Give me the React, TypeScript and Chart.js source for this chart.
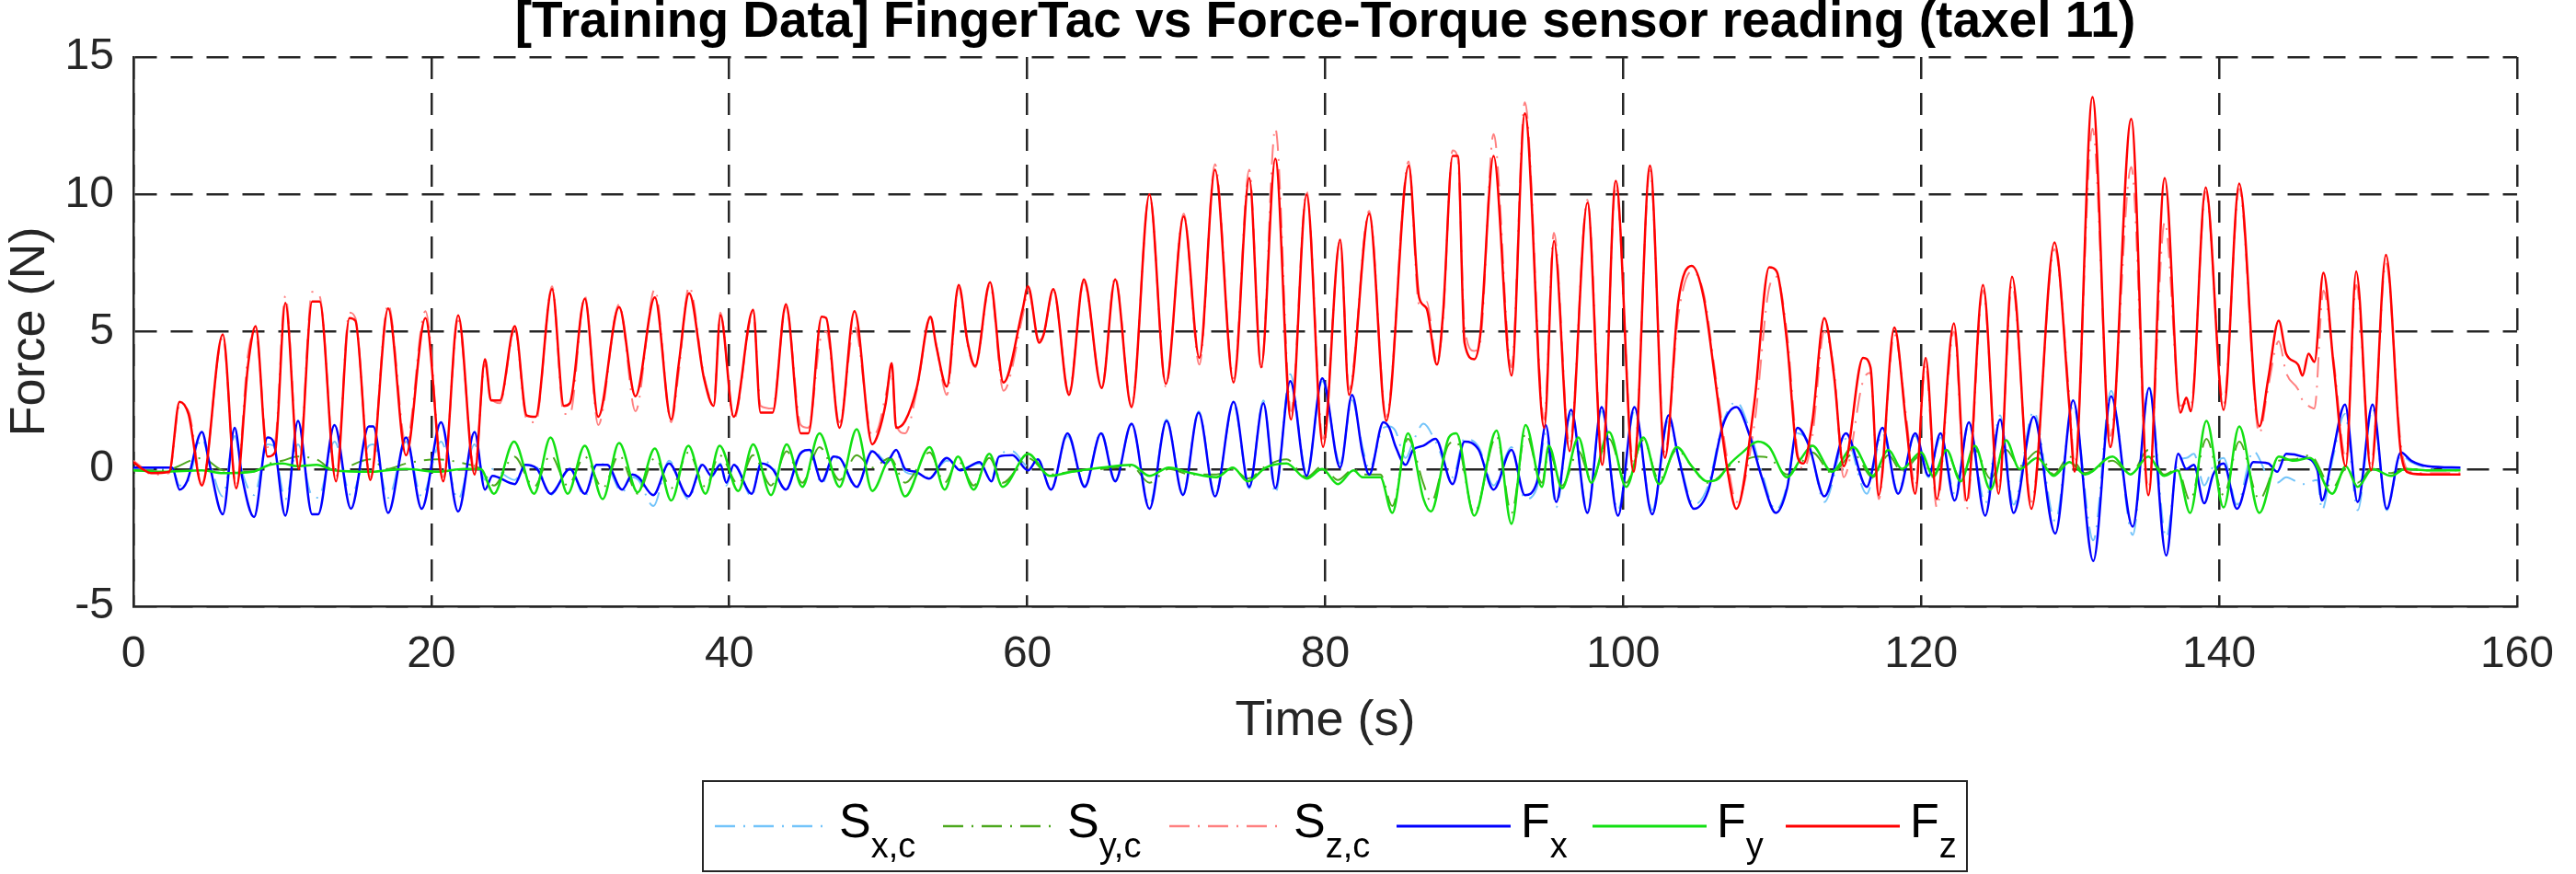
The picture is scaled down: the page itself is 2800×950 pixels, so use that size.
import React, { useEffect, useRef } from "react";
import { Chart, registerables } from "chart.js";

Chart.register(...registerables);

// normal force: shared time base for F_z and S_z (s)
const fzTime = [
  0, 0.6, 1.2, 2.4, 3.1, 3.7, 4.6, 6.0, 6.9, 7.7,
  8.2, 9.0, 9.5, 10.2, 11.1, 12.0, 12.5, 13.6, 14.5, 14.9,
  15.9, 17.1, 18.3, 19.6, 20.8, 21.8, 22.9, 23.6, 24.0, 24.6,
  25.6, 26.4, 27.0, 28.1, 28.9, 29.3, 30.3, 31.2, 32.6, 33.7,
  35.0, 36.1, 36.6, 37.3, 38.3, 38.95, 39.4, 40.3, 41.6, 42.1,
  42.9, 43.8, 44.8, 45.3, 46.2, 46.5, 47.4, 48.4, 49.6, 50.0,
  50.5, 50.9, 51.2, 51.8, 52.6, 53.5, 53.9, 54.6, 55.4, 56.0,
  56.5, 57.5, 58.4, 59.7, 60.05, 60.8, 61.1, 61.75, 62.8, 63.8,
  65.0, 65.9, 67.0, 68.2, 69.3, 70.5, 71.55, 72.6, 73.85, 74.9,
  75.7, 76.65, 77.7, 78.75, 79.85, 81.0, 81.6, 82.95, 84.1, 85.6,
  86.3, 86.8, 87.5, 87.9, 88.55, 88.9, 89.35, 90.0, 90.4, 91.3,
  92.5, 93.4, 94.7, 95.35, 96.4, 97.6, 98.6, 99.5, 100.7, 101.8,
  102.8, 103.7, 104.6, 105.4, 106.2, 107.0, 107.6, 108.8, 109.8, 110.3,
  111.0, 111.7, 112.1, 112.7, 113.5, 114.15, 114.8, 116.1, 116.6, 117.15,
  118.2, 119.0, 119.6, 120.3, 121.05, 122.2, 123.05, 124.15, 125.2, 126.1,
  127.4, 128.95, 129.95, 130.3, 131.5, 132.7, 134.1, 135.25, 136.35, 137.4,
  137.8, 138.1, 139.1, 140.3, 141.35, 142.7, 143.3, 144.0, 144.5, 145.3,
  145.6, 146.0, 146.4, 147.0, 147.7, 148.5, 149.2, 150.2, 151.2, 152.2,
  152.8, 154.0, 156.2,
];
const fzValues = [
  0.25, 0.0, -0.15, -0.1, 2.45, 2.0, -0.6, 4.9, -0.7, 3.8,
  5.2, 0.45, 0.6, 6.05, 0.0, 6.1, 6.1, -0.45, 5.5, 5.4,
  -0.4, 5.85, 0.5, 5.5, -0.45, 5.6, -0.2, 4.0, 2.5, 2.5,
  5.2, 1.95, 1.9, 6.55, 2.3, 2.4, 6.2, 1.9, 5.9, 2.65,
  6.25, 1.8, 3.8, 6.4, 3.3, 2.3, 5.6, 1.9, 5.8, 2.05,
  2.05, 6.0, 1.3, 1.3, 5.55, 5.5, 1.5, 5.75, 0.9, 1.3,
  2.4, 3.85, 1.5, 1.75, 3.0, 5.55, 4.45, 3.0, 6.7, 4.6,
  3.75, 6.8, 3.15, 5.85, 6.65, 4.6, 4.9, 6.55, 2.7, 6.9,
  2.95, 6.9, 2.25, 10.0, 3.1, 9.2, 4.05, 10.9, 3.15, 10.6,
  3.7, 11.3, 1.8, 10.0, 0.8, 8.35, 2.7, 9.3, 1.75, 11.05,
  6.25, 5.85, 3.8, 5.6, 11.4, 11.4, 4.6, 4.0, 4.85, 11.4,
  3.4, 12.95, 1.5, 8.3, 0.65, 9.7, 0.15, 10.5, -0.1, 11.05,
  0.4, 6.1, 7.4, 6.25, 3.15, -0.05, -1.45, 2.4, 7.35, 7.2,
  4.6, 0.45, 0.2, 1.75, 5.5, 3.4, 0.1, 4.05, 3.7, -0.95,
  5.15, 1.6, -0.9, 4.05, -1.1, 5.3, -1.15, 6.7, -0.9, 7.0,
  -1.45, 8.25, 2.25, -0.1, 13.55, 0.8, 12.75, -0.95, 10.6, 2.05,
  2.6, 2.1, 10.25, 2.15, 10.4, 1.55, 3.3, 5.4, 4.2, 3.8,
  3.4, 4.2, 3.9, 7.15, 3.7, 0.1, 7.2, -0.05, 7.8, 0.6,
  -0.15, -0.2, -0.2,
];
const szValues = [
  0.3, 0.05, -0.2, -0.15, 2.3, 2.1, -0.5, 4.8, -0.6, 4.2,
  5.0, 0.8, 1.0, 6.3, 0.1, 6.45, 6.3, -0.3, 5.7, 5.5,
  -0.3, 6.0, 0.9, 5.75, -0.3, 5.4, 0.0, 3.8, 2.6, 2.4,
  5.1, 1.8, 1.7, 6.65, 2.0, 2.0, 6.3, 1.6, 6.0, 2.1,
  6.55, 1.7, 3.5, 6.65, 3.4, 2.4, 5.7, 1.8, 5.7, 2.3,
  2.2, 5.9, 1.6, 1.5, 4.9, 5.0, 1.7, 5.2, 1.2, 1.5,
  2.7, 3.5, 1.6, 1.3, 2.9, 5.5, 4.5, 2.7, 6.6, 4.5,
  3.7, 6.7, 2.85, 5.6, 6.5, 4.7, 4.9, 6.5, 2.8, 6.8,
  3.0, 7.0, 2.3, 10.0, 3.0, 9.3, 3.8, 11.1, 3.3, 10.9,
  3.6, 12.4, 2.1, 10.1, 1.1, 8.3, 2.9, 9.4, 1.9, 11.2,
  6.0, 6.1, 3.9, 5.4, 11.6, 11.3, 5.2, 4.3, 4.6, 12.2,
  3.7, 13.35, 1.8, 8.6, 0.9, 9.8, 0.5, 10.3, 0.2, 10.9,
  0.6, 5.6, 7.2, 6.4, 3.4, 0.3, -1.2, 1.6, 6.6, 7.0,
  4.9, 0.6, 0.0, 1.2, 5.0, 3.6, -0.3, 3.2, 3.5, -1.1,
  4.9, 1.9, -0.6, 3.8, -1.4, 5.0, -1.45, 6.5, -0.7, 6.7,
  -1.2, 8.0, 2.6, 0.2, 12.4, 1.2, 11.0, -0.7, 9.0, 2.3,
  2.4, 2.3, 10.1, 2.4, 10.2, 1.3, 3.0, 4.65, 3.5, 2.9,
  2.5, 2.3, 2.2, 6.5, 3.9, 0.4, 6.7, 0.2, 7.5, 0.9,
  -0.1, -0.15, -0.15,
];

// shear x: shared time base for F_x and S_x,c (s)
const fxTime = [
  0, 2.6, 3.1, 3.6, 4.6, 5.1, 6.0, 6.8, 7.3, 8.1,
  9.0, 9.4, 10.2, 11.05, 12.0, 12.4, 13.5, 14.6, 15.8, 16.1,
  17.1, 18.3, 19.35, 20.65, 21.8, 22.9, 23.6, 24.1, 25.6, 26.3,
  27.1, 28.0, 29.3, 30.3, 31.1, 31.8, 32.8, 33.5, 33.9, 34.9,
  35.95, 37.25, 38.2, 38.8, 39.4, 39.8, 40.3, 41.5, 42.15, 42.9,
  43.8, 44.75, 45.4, 46.2, 47.0, 47.4, 48.55, 49.6, 50.5, 51.2,
  51.8, 52.5, 53.4, 54.6, 55.5, 56.8, 57.6, 58.1, 59.0, 60.05,
  60.7, 61.6, 62.7, 63.85, 64.95, 65.9, 67.0, 68.2, 69.35, 70.45,
  71.5, 72.6, 73.85, 74.9, 75.85, 76.65, 77.65, 78.75, 79.8, 81.0,
  81.8, 82.5, 82.95, 83.9, 84.3, 84.7, 85.4, 85.9, 86.6, 87.4,
  88.55, 89.35, 90.3, 91.3, 92.5, 93.4, 94.2, 94.8, 95.5, 96.5,
  97.6, 98.55, 99.65, 100.75, 101.95, 103.05, 103.7, 104.75, 105.7, 106.7,
  107.6, 108.5, 109.3, 110.25, 111.0, 111.7, 112.5, 113.5, 114.95, 116.35,
  117.4, 118.45, 119.6, 120.5, 121.3, 122.25, 123.2, 124.3, 125.3, 126.2,
  127.55, 129.0, 130.2, 131.55, 132.75, 134.2, 135.3, 136.45, 137.25, 137.8,
  138.3, 139.0, 139.6, 140.3, 141.2, 142.3, 143.3, 143.9, 144.5, 145.6,
  146.6, 146.9, 147.6, 148.45, 149.3, 150.3, 151.25, 152.2, 152.9, 154.0,
  156.2,
];
const fxValues = [
  0.05, 0.05, -0.75, -0.45, 1.35, 0.2, -1.65, 1.5, -0.3, -1.75,
  1.15, 1.0, -1.7, 1.75, -1.65, -1.65, 1.6, -1.45, 1.55, 1.55,
  -1.6, 1.15, -1.45, 1.7, -1.55, 1.35, -0.75, -0.25, -0.55, 0.15,
  0.0, -0.9, 0.0, -0.9, 0.15, 0.15, -0.75, -0.2, -0.3, -0.95,
  0.2, -1.0, 0.15, -0.25, 0.15, -0.5, 0.15, -0.9, 0.2, 0.0,
  -0.75, 0.55, 0.7, -0.45, 0.45, 0.4, -0.65, 0.65, 0.2, 0.7,
  0.0, -0.1, -0.35, 0.4, -0.05, 0.25, -0.45, 0.45, 0.5, -0.05,
  0.35, -0.75, 1.3, -0.65, 1.3, -0.45, 1.65, -1.45, 1.75, -0.95,
  2.05, -1.0, 2.45, -0.65, 2.4, -0.7, 3.2, -0.25, 3.3, 0.05,
  2.7, 0.6, -0.2, 1.7, 1.5, 0.85, 0.15, 0.7, 0.85, 1.1,
  -0.55, 1.0, 0.7, -0.75, 0.7, -0.95, -0.5, 1.6, -1.2, 2.15,
  -1.6, 2.25, -1.7, 2.25, -1.65, 1.95, 0.45, -1.45, -0.8, 1.6,
  2.25, 1.2, -0.3, -1.6, -0.7, 1.5, 0.8, -1.0, 1.3, -0.65,
  1.5, -0.9, 1.3, -0.25, 1.3, -1.15, 1.7, -1.7, 1.8, -1.6,
  1.9, -2.35, 2.5, -3.35, 2.65, -2.1, 2.95, -3.15, 0.55, 0.0,
  0.15, -1.25, -0.2, 0.2, -1.45, 0.25, 0.2, -0.1, 0.55, 0.45,
  -0.05, -1.15, 0.5, 2.35, -1.2, 2.35, -1.45, 0.6, 0.3, 0.1,
  0.05,
];
const sxValues = [
  0.0, 0.0, -0.6, -0.5, 1.1, 0.3, -1.0, 1.2, -0.1, -0.95,
  0.9, 0.85, -1.1, 0.9, -1.0, -1.05, 1.0, -0.95, 0.85, 0.9,
  -1.05, 1.0, -1.0, 1.0, -1.1, 0.9, -0.4, 0.0, -0.4, 0.1,
  0.05, -0.95, 0.0, -1.0, 0.2, 0.1, -0.85, -0.3, -0.4, -1.35,
  0.3, -1.1, 0.2, -0.3, 0.2, -0.6, 0.2, -1.0, 0.3, 0.1,
  -0.8, 0.6, 0.65, -0.55, 0.4, 0.35, -0.7, 0.7, 0.3, 0.6,
  -0.1, -0.2, -0.3, 0.3, 0.0, 0.2, -0.4, 0.5, 0.65, 0.1,
  0.3, -0.7, 1.2, -0.6, 1.35, -0.4, 1.6, -1.3, 1.8, -0.9,
  2.1, -0.9, 2.35, -0.7, 2.5, -0.9, 3.45, -0.2, 3.2, 0.2,
  2.5, 0.8, 0.0, 1.5, 1.55, 1.4, 0.4, 1.0, 1.65, 1.0,
  -0.3, 1.1, 0.8, -0.6, 0.8, -1.1, -0.7, 1.3, -1.4, 2.0,
  -1.5, 2.1, -1.5, 2.1, -1.5, 1.8, 0.5, -1.3, -0.6, 1.7,
  2.45, 1.4, -0.1, -1.5, -0.6, 1.3, 0.9, -1.2, 1.1, -0.9,
  1.3, -0.8, 1.2, -0.3, 1.15, -0.9, 1.6, -1.25, 1.95, -1.3,
  2.1, -1.9, 2.3, -2.6, 2.85, -2.4, 3.0, -2.5, 0.3, 0.4,
  0.55, -0.6, 0.1, 0.4, -1.3, 0.65, -0.3, -0.5, -0.3, -0.55,
  -0.4, -1.5, 0.3, 2.0, -1.5, 2.2, -1.5, 0.5, 0.25, 0.05,
  0.0,
];

// shear y: shared time base for F_y and S_y,c (s)
const fyTime = [
  0, 2.0, 4.6, 6.0, 8.0, 9.15, 10.0, 11.0, 12.3, 13.5,
  15.9, 17.0, 18.3, 20.4, 22.2, 23.3, 24.2, 25.55, 26.9, 28.0,
  29.15, 30.3, 31.5, 32.6, 33.85, 35.0, 36.1, 37.25, 38.4, 39.35,
  40.6, 41.6, 42.8, 43.85, 44.9, 46.05, 47.4, 48.55, 49.6, 50.8,
  51.8, 53.45, 54.45, 55.35, 56.4, 57.45, 58.35, 60.05, 61.5, 63.0,
  65.0, 67.0, 68.2, 69.5, 71.0, 72.7, 73.8, 74.8, 76.0, 77.4,
  78.75, 79.8, 80.85, 81.9, 82.5, 83.7, 84.5, 85.55, 86.6, 87.1,
  88.3, 88.8, 90.0, 91.5, 92.5, 93.45, 94.55, 95.0, 95.9, 97.0,
  97.85, 99.05, 100.2, 101.35, 102.4, 103.6, 104.6, 105.65, 106.4, 107.1,
  108.0, 109.05, 109.8, 111.0, 111.9, 112.7, 114.0, 115.45, 116.75, 117.8,
  118.7, 120.0, 120.8, 121.7, 122.65, 123.6, 124.65, 125.7, 126.6, 127.8,
  128.9, 129.95, 131.0, 132.85, 134.05, 135.25, 136.3, 137.2, 138.05, 139.15,
  140.3, 141.35, 142.7, 144.0, 145.0, 146.1, 147.6, 148.5, 149.3, 150.3,
  151.55, 152.5, 154.0, 156.2,
];
const fyValues = [
  -0.05, -0.1, -0.05, -0.15, -0.1, 0.15, 0.2, 0.1, 0.15, -0.05,
  -0.1, -0.05, 0.0, -0.1, 0.0, 0.0, -0.9, 1.0, -0.9, 1.15,
  -0.9, 0.85, -1.1, 0.95, -0.85, 0.75, -1.15, 0.85, -0.9, 0.85,
  -0.8, 0.9, -0.95, 0.9, -0.65, 1.3, -0.65, 1.45, -0.8, 0.35,
  -1.0, 0.8, -0.75, 0.45, -0.75, 0.55, -0.65, 0.55, -0.25, -0.1,
  0.05, 0.15, -0.25, 0.05, -0.15, -0.3, 0.05, -0.45, 0.05, 0.2,
  -0.35, 0.0, -0.55, -0.05, -0.3, -0.3, -1.6, 1.3, -1.1, -1.55,
  1.15, 1.3, -1.7, 1.4, -2.0, 1.6, -0.65, 0.85, -0.7, 1.15,
  -0.5, 1.35, -0.65, 1.15, -0.55, 0.8, 0.1, -0.45, -0.35, 0.15,
  0.6, 1.0, 0.8, -0.3, 0.35, 0.85, -0.1, 0.8, -0.25, 0.7,
  0.0, 0.6, -0.25, 0.7, -0.45, 0.85, -0.75, 1.05, 0.0, 0.4,
  -0.25, 0.25, -0.2, 0.45, -0.2, 0.45, -0.25, -0.05, -1.6, 1.75,
  -1.4, 1.55, -1.6, 0.45, 0.3, 0.4, -0.9, 0.1, -0.65, 0.0,
  -0.25, 0.0, -0.05, -0.05,
];
const syValues = [
  -0.05, -0.05, 0.4, -0.05, -0.1, 0.2, 0.3, 0.45, 0.35, -0.05,
  0.35, 0.0, 0.2, 0.35, 0.2, 0.0, -0.6, 0.45, -0.65, 0.5,
  -0.6, 0.45, -0.7, 0.5, -0.9, 0.4, -0.7, 0.6, -0.65, 0.5,
  -0.55, 0.5, -0.6, 0.65, -0.5, 0.8, -0.4, 0.5, 0.05, 0.4,
  -0.5, 0.6, -0.5, 0.3, -0.6, 0.4, -0.5, 0.4, -0.2, -0.1,
  0.0, 0.1, -0.5, 0.0, -0.2, -0.2, 0.0, -0.35, 0.1, 0.35,
  -0.3, 0.1, -0.4, 0.0, -0.2, -0.2, -1.35, 1.1, -0.55, -1.2,
  0.9, 1.0, -1.6, 1.2, -1.6, 1.3, -0.5, 0.65, -0.6, 0.65,
  -0.4, 1.1, -0.5, 1.05, -0.4, 0.7, 0.1, -0.5, -0.3, 0.1,
  0.3, 0.45, 0.4, -0.2, 0.2, 0.6, -0.15, 0.55, -0.3, 0.5,
  -0.1, 0.5, -0.3, 0.6, -0.35, 0.7, -0.35, 0.7, 0.1, 0.65,
  -0.2, 0.45, -0.15, 0.3, -0.2, 0.7, -0.2, 0.0, -1.15, 1.1,
  -0.95, 1.0, -1.1, 0.3, 0.35, 0.5, -0.7, 0.0, -0.5, 0.05,
  -0.15, 0.0, -0.05, -0.05,
];

const xTickValues = [0, 20, 40, 60, 80, 100, 120, 140, 160];
const yTickValues = [-5, 0, 5, 10, 15];
const legendMain = ["S", "S", "S", "F", "F", "F"];
const legendSub = ["x,c", "y,c", "z,c", "x", "y", "z"];

const FONT = '"Liberation Sans", Arial, Helvetica, sans-serif';
const INK = "#262626";
const DASH_DOT = [22, 9, 2, 9];

// legend order: S_x, S_y, S_z, F_x, F_y, F_z
const seriesStyle = [
  { color: "#73C4FA", width: 2, dash: DASH_DOT },
  { color: "#4DA81E", width: 2, dash: DASH_DOT },
  { color: "#FF8080", width: 2, dash: DASH_DOT },
  { color: "#0000FF", width: 2.5, dash: [] },
  { color: "#12E012", width: 2.5, dash: [] },
  { color: "#FF0000", width: 2.5, dash: [] },
];

const toPoints = (time: number[], values: number[]) =>
  time.map((t, i) => ({ x: t, y: values[i] }));

const legendPlugin = {
  id: "matlabLegend",
  afterDraw(chart: Chart) {
    const { ctx } = chart;
    const box = { left: 764, top: 849, right: 2138, bottom: 947 };
    const lineY = 898;
    const itemStarts = [777, 1025, 1271, 1518, 1731, 1941];
    const lineLen = 124;
    ctx.save();
    ctx.fillStyle = "#ffffff";
    ctx.fillRect(box.left, box.top, box.right - box.left, box.bottom - box.top);
    ctx.strokeStyle = INK;
    ctx.lineWidth = 2;
    ctx.setLineDash([]);
    ctx.strokeRect(box.left, box.top, box.right - box.left, box.bottom - box.top);

    itemStarts.forEach((x0, i) => {
      const st = seriesStyle[i];
      ctx.beginPath();
      ctx.strokeStyle = st.color;
      ctx.lineWidth = st.width + 0.5;
      ctx.setLineDash(st.dash);
      ctx.moveTo(x0, lineY);
      ctx.lineTo(x0 + lineLen, lineY);
      ctx.stroke();
      ctx.setLineDash([]);

      const tx = x0 + lineLen + 11;
      ctx.fillStyle = "#000000";
      ctx.textAlign = "left";
      ctx.textBaseline = "alphabetic";
      ctx.font = `52px ${FONT}`;
      ctx.fillText(legendMain[i], tx, 910);
      const w = ctx.measureText(legendMain[i]).width;
      ctx.font = `38px ${FONT}`;
      ctx.fillText(legendSub[i], tx + w, 932);
    });
    ctx.restore();
  },
};

const App = () => {
  const canvasRef = useRef<HTMLCanvasElement | null>(null);
  const chartRef = useRef<Chart | null>(null);

  useEffect(() => {
    if (chartRef.current) chartRef.current.destroy();
    const ctx = canvasRef.current?.getContext("2d");
    if (!ctx) return;

    const sets = [
      toPoints(fxTime, sxValues),
      toPoints(fyTime, syValues),
      toPoints(fzTime, szValues),
      toPoints(fxTime, fxValues),
      toPoints(fyTime, fyValues),
      toPoints(fzTime, fzValues),
    ];
    const names = ["S_x,c", "S_y,c", "S_z,c", "F_x", "F_y", "F_z"];
    // Chart.js paints dataset 0 last, so reverse to keep F_z on top
    const datasets = sets
      .map((data, i) => ({
        label: names[i],
        data,
        borderColor: seriesStyle[i].color,
        borderWidth: seriesStyle[i].width,
        borderDash: seriesStyle[i].dash,
        pointRadius: 0,
        fill: false,
        cubicInterpolationMode: "monotone" as const,
      }))
      .reverse();

    chartRef.current = new Chart(ctx, {
      type: "line",
      data: { datasets },
      options: {
        animation: false,
        responsive: false,
        devicePixelRatio: 1,
        layout: { padding: { left: 0, right: 40, top: 0, bottom: 130 } },
        plugins: {
          legend: { display: false },
          tooltip: { enabled: false },
          title: {
            display: true,
            text: "[Training Data] FingerTac vs Force-Torque sensor reading (taxel 11)",
            fullSize: false,
            color: "#000000",
            font: { family: FONT, size: 55, weight: "bold", lineHeight: 0.82 },
            padding: { top: 2, bottom: 15 },
          },
        },
        scales: {
          x: {
            type: "linear",
            min: 0,
            max: 160,
            afterBuildTicks: (scale: any) => {
              scale.ticks = xTickValues.map((v) => ({ value: v }));
            },
            afterFit: (scale: any) => {
              scale.height = 161;
            },
            ticks: {
              color: INK,
              padding: 24,
              maxRotation: 0,
              font: { family: FONT, size: 48 },
            },
            grid: { color: INK, lineWidth: 2.5, drawTicks: false },
            border: { display: true, color: INK, width: 2.5, dash: [24, 15] },
            title: {
              display: true,
              text: "Time (s)",
              color: INK,
              font: { family: FONT, size: 54 },
              padding: { top: 0, bottom: 3 },
            },
          },
          y: {
            type: "linear",
            min: -5,
            max: 15,
            afterBuildTicks: (scale: any) => {
              scale.ticks = yTickValues.map((v) => ({ value: v }));
            },
            afterFit: (scale: any) => {
              scale.width = 145;
            },
            ticks: {
              color: INK,
              padding: 21,
              font: { family: FONT, size: 48 },
            },
            grid: { color: INK, lineWidth: 2.5, drawTicks: false },
            border: { display: true, color: INK, width: 2.5, dash: [24, 15] },
            title: {
              display: true,
              text: "Force (N)",
              color: INK,
              font: { family: FONT, size: 54 },
              padding: { top: 1, bottom: 0 },
            },
          },
        },
      },
      plugins: [legendPlugin],
    });

    return () => {
      if (chartRef.current) chartRef.current.destroy();
      chartRef.current = null;
    };
  }, []);

  return (
    <div
      style={{
        position: "absolute",
        left: 0,
        top: 0,
        width: 2800,
        height: 950,
        background: "#ffffff",
      }}
    >
      <canvas ref={canvasRef} width={2800} height={950}></canvas>
    </div>
  );
};

export default App;
